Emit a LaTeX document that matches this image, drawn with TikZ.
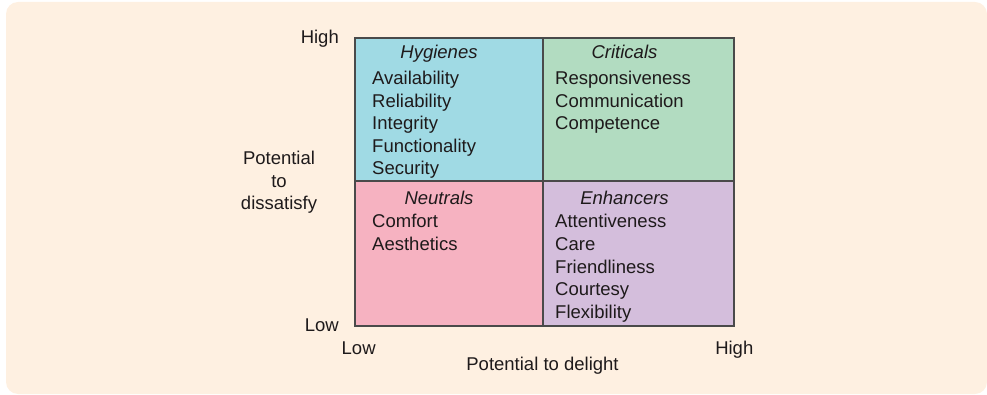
\documentclass[tikz,border=0pt]{standalone}
\usepackage{fontspec}
\setmainfont{Liberation Sans}
\definecolor{bgc}{HTML}{FEF0E1}
\definecolor{hyc}{HTML}{A0DAE4}
\definecolor{crc}{HTML}{B2DCC1}
\definecolor{nec}{HTML}{F6B2C1}
\definecolor{enc}{HTML}{D4BEDC}
\definecolor{linec}{HTML}{4A4A4A}
\definecolor{txtc}{HTML}{1E1A1B}
\tikzset{
  lbl/.style={inner sep=0pt, text=txtc, font=\fontsize{18.5}{22}\selectfont},
  item/.style={lbl, anchor=base west},
  ttl/.style={lbl, anchor=base, font=\fontsize{18.5}{22}\selectfont\itshape},
  quad/.style={draw=linec, line width=1.2pt}
}
\begin{document}
\begin{tikzpicture}[x=1pt,y=-1pt]
\useasboundingbox (0,0) rectangle (987,395);
\fill[bgc, rounded corners=12pt] (6,2) rectangle (987,394);
% quadrants
\fill[hyc] (355,38) rectangle (543,181);
\fill[crc] (543,38) rectangle (734,181);
\fill[nec] (355,181) rectangle (543,326);
\fill[enc] (543,181) rectangle (734,326);
\draw[quad] (355,38) rectangle (734,326);
\draw[quad] (543,38) -- (543,326);
\draw[quad] (355,181) -- (734,181);
% titles
\node[ttl] (thyg) at (439,59) {Hygienes};
\node[ttl] (tcri) at (624.5,59) {Criticals};
\node[ttl] (tneu) at (439,205) {Neutrals};
\node[ttl] (tenh) at (624.5,205) {Enhancers};
% items
\foreach \t [count=\i] in {Availability,Reliability,Integrity,Functionality,Security}
  \node[item] (hy\i) at (372,{85+22.5*(\i-1)}) {\t};
\foreach \t [count=\i] in {Responsiveness,Communication,Competence}
  \node[item] (cr\i) at (555,{85+22.5*(\i-1)}) {\t};
\foreach \t [count=\i] in {Comfort,Aesthetics}
  \node[item] (ne\i) at (372,{228+22.5*(\i-1)}) {\t};
\foreach \t [count=\i] in {Attentiveness,Care,Friendliness,Courtesy,Flexibility}
  \node[item] (en\i) at (555,{228+22.5*(\i-1)}) {\t};
% axis labels
\node[lbl, anchor=base east] (yhigh) at (339,44) {High};
\node[lbl, anchor=base east] (ylow) at (339,331.5) {Low};
\node[lbl, anchor=base] (ylab1) at (279,165) {Potential};
\node[lbl, anchor=base] (ylab2) at (279,187.5) {to};
\node[lbl, anchor=base] (ylab3) at (279,210) {dissatisfy};
\node[lbl, anchor=base west] (xlow) at (341.5,354) {Low};
\node[lbl, anchor=base east] (xhigh) at (753.5,354) {High};
\node[lbl, anchor=base] (xlab) at (542.5,370) {Potential to delight};
\end{tikzpicture}
\end{document}
